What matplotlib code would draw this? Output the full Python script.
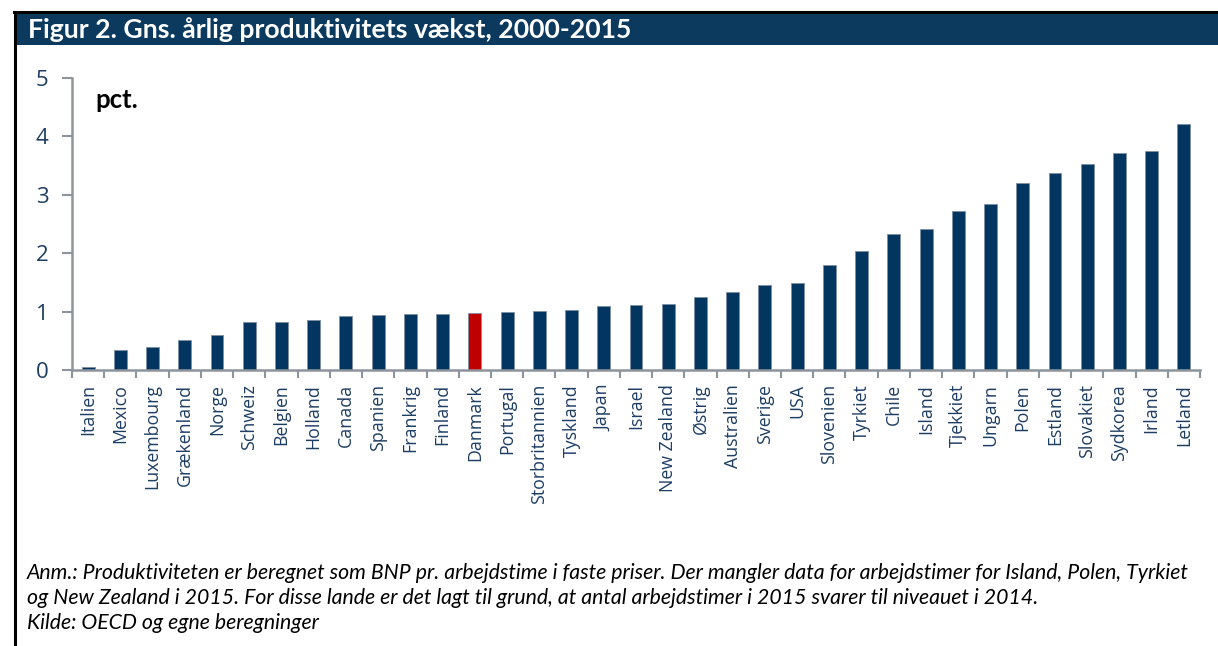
import numpy as np
import matplotlib.pyplot as plt
from matplotlib.patches import Rectangle
from matplotlib.lines import Line2D

lande = ['Italien', 'Mexico', 'Luxembourg', 'Grækenland', 'Norge', 'Schweiz', 'Belgien',
         'Holland', 'Canada', 'Spanien', 'Frankrig', 'Finland', 'Danmark', 'Portugal',
         'Storbritannien', 'Tyskland', 'Japan', 'Israel', 'New Zealand', 'Østrig',
         'Australien', 'Sverige', 'USA', 'Slovenien', 'Tyrkiet', 'Chile', 'Island',
         'Tjekkiet', 'Ungarn', 'Polen', 'Estland', 'Slovakiet', 'Sydkorea', 'Irland', 'Letland']
vaekst = [0.05, 0.34, 0.40, 0.51, 0.60, 0.82, 0.83, 0.85, 0.92, 0.94, 0.96, 0.96, 0.97,
          1.00, 1.01, 1.02, 1.09, 1.11, 1.13, 1.25, 1.33, 1.46, 1.49, 1.80, 2.03, 2.33,
          2.41, 2.73, 2.85, 3.21, 3.37, 3.53, 3.71, 3.75, 4.22]
yticks = [0, 1, 2, 3, 4, 5]

titel = 'Figur 2. Gns. årlig produktivitets vækst, 2000-2015'
note = ('Anm.: Produktiviteten er beregnet som BNP pr. arbejdstime i faste priser. Der mangler data for arbejdstimer for Island, Polen, Tyrkiet\n'
        'og New Zealand i 2015. For disse lande er det lagt til grund, at antal arbejdstimer i 2015 svarer til niveauet i 2014.\n'
        'Kilde: OECD og egne beregninger')

BLAA = '#02355f'
TEKST = '#1d3d63'
AKSE = '#8e949c'

W, H = 1218, 646
fig = plt.figure(figsize=(W / 100, H / 100), dpi=100)

# ramme og overskrift
fig.patches.append(Rectangle((14 / W, (H - 45) / H), (W - 14) / W, 32 / H,
                             transform=fig.transFigure, facecolor='#0b3a5e', edgecolor='none'))
fig.lines.append(Line2D([14 / W, 1], [(H - 12) / H, (H - 12) / H], transform=fig.transFigure,
                        color='black', lw=2.2))
fig.lines.append(Line2D([15 / W, 15 / W], [0, (H - 12) / H], transform=fig.transFigure,
                        color='black', lw=2.2))
fig.text(28 / W, (H - 30) / H, titel, color='white', fontsize=19.2, fontweight='bold',
         family='Lato', va='center', ha='left')

ax = fig.add_axes([72 / W, (H - 370) / H, (1200 - 72) / W, (370 - 78) / H])
x = np.arange(len(lande))
farver = ['#c00000' if l == 'Danmark' else BLAA for l in lande]
ax.bar(x, vaekst, width=0.4, color=farver, edgecolor='#7d8fa3', linewidth=0.6)

ax.set_xlim(-0.5, len(lande) - 0.5)
ax.set_ylim(0, 5)
ax.set_yticks(yticks)
ax.set_xticks(x)
ax.set_xticklabels(lande, rotation=90, fontsize=12.8, family='Open Sans', color=TEKST)
ax.set_xticks(np.arange(len(lande) + 1) - 0.5, minor=True)
ax.tick_params(axis='x', which='major', length=0, pad=10)
ax.tick_params(axis='x', which='minor', length=6, width=1.5, color=AKSE, direction='out')
ax.tick_params(axis='y', length=7, width=1.5, color=AKSE, labelsize=16, labelcolor=TEKST, pad=10)
for lab in ax.get_yticklabels():
    lab.set_family('Open Sans')

for s in ['top', 'right']:
    ax.spines[s].set_visible(False)
for s in ['left', 'bottom']:
    ax.spines[s].set_color(AKSE)
    ax.spines[s].set_linewidth(1.8)

ax.text(95 / W, (H - 100) / H, 'pct.', transform=fig.transFigure, fontsize=18.5,
        fontweight='bold', family='Lato', va='center', ha='left')

fig.text(27 / W, (H - 563) / H, note, fontsize=15.3, style='italic', family='Lato',
         va='top', ha='left', linespacing=1.3)

fig.savefig('out.png', dpi=100)
